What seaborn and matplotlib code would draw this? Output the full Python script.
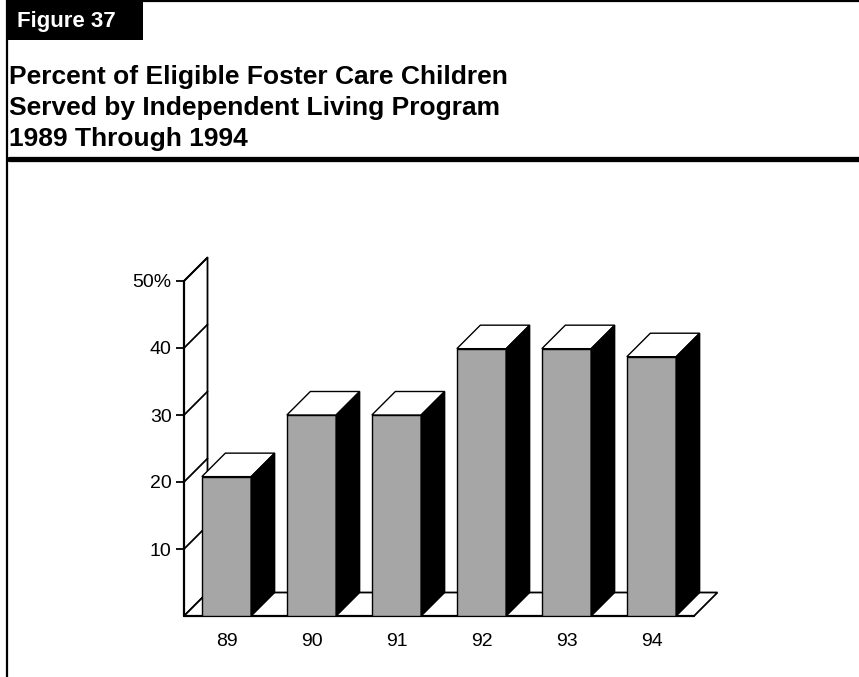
import pandas as pd
import matplotlib
matplotlib.use("Agg")
import matplotlib.pyplot as plt
from matplotlib.patches import Polygon, Rectangle
from matplotlib.lines import Line2D
import seaborn as sns

# Chart data
years = ["89", "90", "91", "92", "93", "94"]
percent_served = [20.8, 30, 30, 39.9, 39.9, 38.7]
y_ticks = [10, 20, 30, 40, 50]
y_tick_labels = ["10", "20", "30", "40", "50%"]

figure_label = "Figure 37"
title_lines = [
    "Percent of Eligible Foster Care Children",
    "Served by Independent Living Program",
    "1989 Through 1994",
]

sns.set_theme(style="white")
plt.rcParams['font.family'] = ['Liberation Sans', 'DejaVu Sans']
plt.rcParams['text.color'] = 'black'
plt.rcParams['xtick.color'] = 'black'
plt.rcParams['ytick.color'] = 'black'
plt.rcParams['axes.labelcolor'] = 'black'

W, H = 859, 677
fig = plt.figure(figsize=(W / 100, H / 100), dpi=100)


def fx(px):
    return px / W


def fy(py):
    return 1 - py / H


# Header: label box, frame lines, title
fig.add_artist(Rectangle((fx(6), fy(40)), fx(143) - fx(6), fy(0) - fy(40),
                         transform=fig.transFigure, facecolor="black", edgecolor="none"))
fig.text(fx(17), fy(21), figure_label, color="white", fontsize=16, fontweight="bold",
         va="center", ha="left")
fig.add_artist(Line2D([fx(7), fx(7)], [0, 1], transform=fig.transFigure, color="black", lw=1.6))
fig.add_artist(Line2D([fx(143), 1], [fy(1), fy(1)], transform=fig.transFigure, color="black", lw=1.6))
fig.add_artist(Line2D([fx(9), 1], [fy(159), fy(159)], transform=fig.transFigure, color="black",
                      lw=3.8, solid_capstyle="round"))
for i, line in enumerate(title_lines):
    fig.text(fx(9), fy(77 + 31 * i), line, fontsize=19, fontweight="bold", va="center", ha="left")

# Plot area
ax = fig.add_axes([fx(184), fy(616), (694 - 184) / W, (616 - 281) / H])
df = pd.DataFrame({"year": years, "pct": percent_served})
sns.barplot(data=df, x="year", y="pct", color="#a6a6a6", saturation=1, edgecolor="black",
            linewidth=1.0, width=0.58, ax=ax, zorder=3)
ax.set_xlim(-0.5, 5.5)
ax.set_ylim(0, 50)

# 3D depth in data units
px_per_cat = (694 - 184) / 6
px_per_unit = (616 - 281) / 50
dx = 23.5 / px_per_cat
dy = 23.5 / px_per_unit

# back wall and floor
wall = Polygon([(-0.5, 0), (-0.5, 50), (-0.5 + dx, 50 + dy), (-0.5 + dx, dy)],
               closed=True, facecolor="white", edgecolor="black", lw=1.3, clip_on=False, zorder=1)
floor = Polygon([(-0.5, 0), (5.5, 0), (5.5 + dx, dy), (-0.5 + dx, dy)],
                closed=True, facecolor="white", edgecolor="black", lw=1.3, clip_on=False, zorder=1)
ax.add_patch(wall)
ax.add_patch(floor)
for t in y_ticks:
    ax.plot([-0.5, -0.5 + dx], [t, t + dy], color="black", lw=1.3, clip_on=False, zorder=1)
ax.plot([-0.5, -0.5], [0, 50], color="black", lw=1.6, clip_on=False, zorder=2)
ax.plot([-0.5, 5.5], [0, 0], color="black", lw=1.6, clip_on=False, zorder=2)

# tops and sides of bars
for p in list(ax.patches):
    if p in (wall, floor):
        continue
    x0, w, h = p.get_x(), p.get_width(), p.get_height()
    top = Polygon([(x0, h), (x0 + w, h), (x0 + w + dx, h + dy), (x0 + dx, h + dy)],
                  closed=True, facecolor="white", edgecolor="black", lw=1.0, clip_on=False, zorder=4)
    side = Polygon([(x0 + w, 0), (x0 + w + dx, dy), (x0 + w + dx, h + dy), (x0 + w, h)],
                   closed=True, facecolor="black", edgecolor="black", lw=1.0, clip_on=False, zorder=4)
    ax.add_patch(top)
    ax.add_patch(side)

for s in ax.spines.values():
    s.set_visible(False)
ax.set_yticks(y_ticks)
ax.set_yticklabels(y_tick_labels)
ax.yaxis.set_ticks_position("left")
ax.tick_params(axis="y", length=6, width=1.3, color="black", pad=3, labelsize=14, left=True)
ax.tick_params(axis="x", length=0, pad=12, labelsize=14)
ax.set_xlabel("")
ax.set_ylabel("")
ax.set_facecolor("none")

plt.savefig("out.png", dpi=100)
